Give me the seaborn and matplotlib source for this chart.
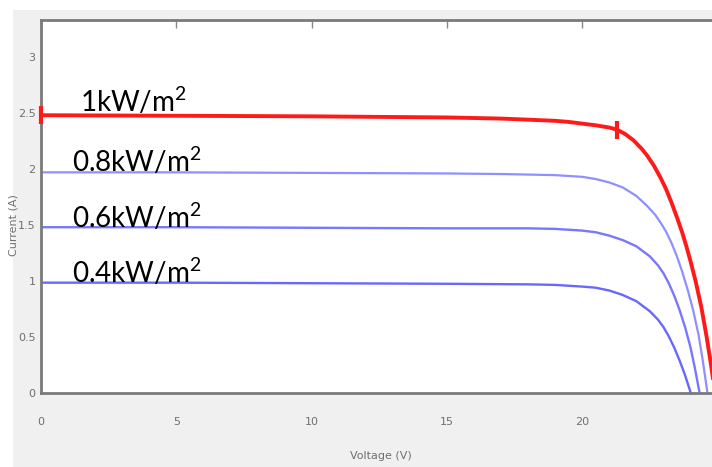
import pandas as pd
import matplotlib.pyplot as plt
import matplotlib.patches as mpatches
import seaborn as sns

# I-V curves (voltage in V, current in A)
voltage_1000 = [0, 5, 10, 15, 17, 18, 19, 19.5, 20, 20.5, 21, 21.3, 21.6, 21.9, 22.2, 22.4, 22.65,
                22.9, 23.1, 23.3, 23.5, 23.7, 23.85, 24.0, 24.2, 24.4, 24.6, 24.75, 24.85, 24.92]
current_1000 = [2.48, 2.475, 2.47, 2.46, 2.45, 2.44, 2.43, 2.42, 2.405, 2.39, 2.37, 2.35, 2.31, 2.255, 2.18, 2.12, 2.03,
                1.92, 1.82, 1.70, 1.57, 1.43, 1.31, 1.18, 0.99, 0.77, 0.50, 0.27, 0.10, 0.0]

voltage_800 = [0, 5, 10, 15, 17, 18, 19, 20, 20.5, 21, 21.5, 22, 22.4, 22.7, 22.9, 23.1, 23.3,
               23.5, 23.7, 23.9, 24.1, 24.3, 24.45, 24.6, 24.63]
current_800 = [1.97, 1.97, 1.965, 1.96, 1.955, 1.95, 1.945, 1.93, 1.91, 1.88, 1.835, 1.76, 1.67, 1.59, 1.52, 1.44, 1.34,
               1.22, 1.08, 0.92, 0.74, 0.52, 0.30, 0.05, 0.0]

voltage_600 = [0, 5, 10, 15, 18, 19, 20, 20.5, 21, 21.5, 22, 22.5, 22.8, 23.0, 23.2, 23.4, 23.6,
               23.8, 24.0, 24.15, 24.3, 24.34]
current_600 = [1.48, 1.48, 1.475, 1.47, 1.47, 1.465, 1.45, 1.435, 1.405, 1.365, 1.31, 1.22, 1.14, 1.07, 0.98, 0.87, 0.74,
               0.59, 0.41, 0.24, 0.05, 0.0]

voltage_400 = [0, 5, 10, 15, 18, 19, 20, 20.5, 21.0, 21.5, 22.0, 22.5, 22.8, 23.0, 23.2, 23.4, 23.6,
               23.8, 24.0, 24.02]
current_400 = [0.985, 0.985, 0.98, 0.975, 0.97, 0.965, 0.95, 0.94, 0.915, 0.875, 0.82, 0.73, 0.655, 0.59, 0.506, 0.406, 0.29,
               0.16, 0.01, 0.0]

# red tick markers on the 1 kW/m2 curve
marker_v = [0, 21.3]
marker_i = [2.48, 2.35]

labels = ['1kW/m$^2$', '0.8kW/m$^2$', '0.6kW/m$^2$', '0.4kW/m$^2$']
label_x = [1.45, 1.15, 1.15, 1.15]
label_y = [2.6, 2.07, 1.57, 1.08]

x_ticks = [0, 5, 10, 15, 20]
y_ticks = [0, 0.5, 1, 1.5, 2, 2.5, 3]

frames = []
for name, v, i in [('1000', voltage_1000, current_1000), ('800', voltage_800, current_800),
                   ('600', voltage_600, current_600), ('400', voltage_400, current_400)]:
    frames.append(pd.DataFrame({'Voltage': v, 'Current': i, 'G': name}))
df = pd.concat(frames, ignore_index=True)

sns.set_theme(style="white")
plt.rcParams['font.family'] = ['DejaVu Sans']
plt.rcParams['mathtext.fontset'] = 'custom'
plt.rcParams['mathtext.rm'] = 'Lato'
plt.rcParams['mathtext.it'] = 'Lato'

W, H = 712, 467
fig = plt.figure(figsize=(W / 100, H / 100), dpi=100, facecolor='white')
# gray matlab-style figure background, with white strip on left/top
fig.patches.append(mpatches.Rectangle((13 / W, 0), 1, (H - 10) / H, transform=fig.transFigure,
                                      facecolor='#f0f0f0', edgecolor='none', zorder=-10))
ax = fig.add_axes([41 / W, (H - 393) / H, (W - 41) / W + 0.002, (393 - 20) / H])
ax.set_facecolor('white')

styles = {'1000': ('#ff1a1a', 2.8, 1.0), '800': ('#6a6aff', 1.6, 0.75),
          '600': ('#5555ff', 1.7, 0.8), '400': ('#4d4dff', 1.7, 0.85)}
for g in ['400', '600', '800', '1000']:
    c, lw, a = styles[g]
    sns.lineplot(data=df[df['G'] == g], x='Voltage', y='Current', sort=False, estimator=None,
                 color=c, linewidth=lw, alpha=a, ax=ax, legend=False)

ax.plot(marker_v, marker_i, linestyle='none', marker='|', markersize=13, markeredgewidth=3,
        color='#ff1a1a', clip_on=False, zorder=5)

for lab, lx, ly in zip(labels, label_x, label_y):
    ax.text(lx, ly, lab, fontsize=20, family='Lato', color='black', va='center', ha='left')

ax.set_xlim(0, 24.85)
ax.set_ylim(0, 3.33)
ax.set_xticks(x_ticks)
ax.set_yticks(y_ticks)
ax.set_yticklabels(['0', '0.5', '1', '1.5', '2', '2.5', '3'])
ax.tick_params(direction='in', length=6, width=1, colors='#888888', labelcolor='#707070',
               labelsize=8, top=True, right=False, pad=17)
ax.tick_params(axis='y', pad=4)
for s in ['left', 'bottom', 'top']:
    ax.spines[s].set_color('#7a7a7a')
    ax.spines[s].set_linewidth(2)
ax.spines['right'].set_visible(False)

ax.set_xlabel('Voltage (V)', fontsize=8, color='#707070')
ax.set_ylabel('Current (A)', fontsize=8, color='#707070')
ax.xaxis.set_label_coords(0.505, -0.155)
ax.yaxis.set_label_coords(-0.033, 0.45)

fig.savefig('out.png', dpi=100, facecolor=fig.get_facecolor())
